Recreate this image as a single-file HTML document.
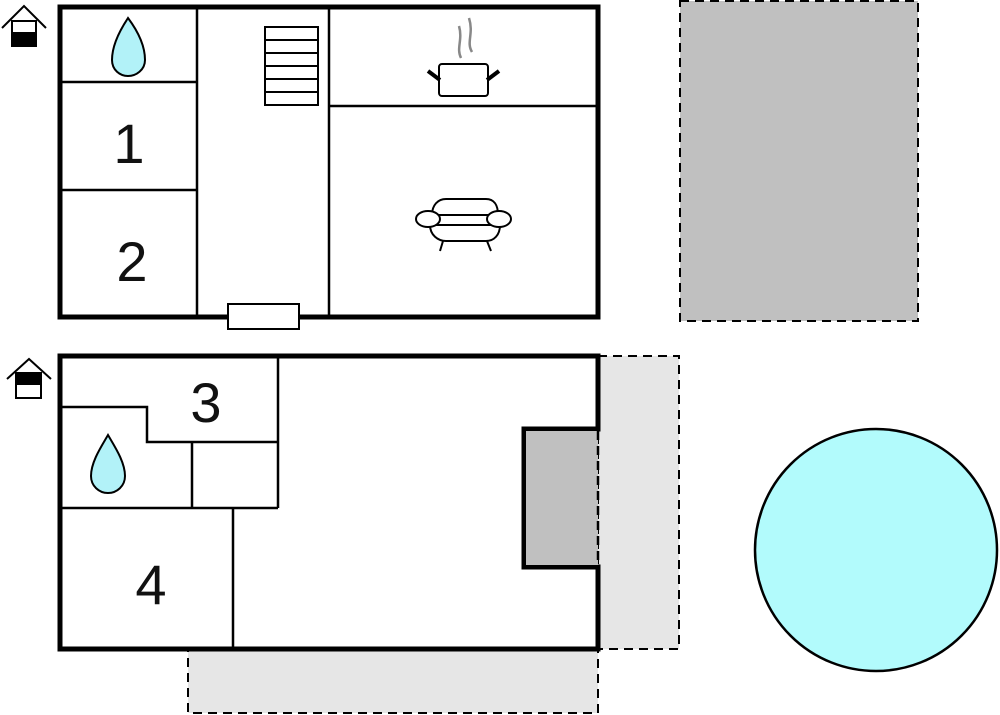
<!DOCTYPE html>
<html><head><meta charset="utf-8"><style>html,body{margin:0;padding:0;background:#fff;}svg{display:block;}</style></head>
<body>
<svg width="1000" height="715" viewBox="0 0 1000 715" xmlns="http://www.w3.org/2000/svg" font-family="Liberation Sans, sans-serif">
<!-- gray dashed area top right -->
<rect x="680" y="1" width="238" height="320" fill="#c0c0c0" stroke="#000" stroke-width="2" stroke-dasharray="9,6"/>
<!-- terraces -->
<rect x="598" y="356" width="81" height="293" fill="#e6e6e6" stroke="#000" stroke-width="2" stroke-dasharray="9,6"/>
<rect x="188" y="649" width="410" height="64" fill="#e6e6e6" stroke="#000" stroke-width="2" stroke-dasharray="9,6"/>
<!-- pool -->
<circle cx="876" cy="550" r="121" fill="#b2fbfc" stroke="#000" stroke-width="2.5"/>

<!-- TOP BUILDING -->
<rect x="60" y="7" width="538" height="310" fill="#fff" stroke="#000" stroke-width="5"/>
<g stroke="#000" stroke-width="2.5" fill="none">
<line x1="197" y1="7" x2="197" y2="317"/>
<line x1="329" y1="7" x2="329" y2="317"/>
<line x1="60" y1="82" x2="197" y2="82"/>
<line x1="60" y1="190" x2="197" y2="190"/>
<line x1="329" y1="106" x2="598" y2="106"/>
</g>
<!-- stairs -->
<g stroke="#000" stroke-width="2" fill="#fff">
<rect x="265" y="27" width="53" height="78"/>
<line x1="265" y1="40" x2="318" y2="40"/>
<line x1="265" y1="53" x2="318" y2="53"/>
<line x1="265" y1="66" x2="318" y2="66"/>
<line x1="265" y1="79" x2="318" y2="79"/>
<line x1="265" y1="92" x2="318" y2="92"/>
</g>
<rect x="228" y="304" width="71" height="25" fill="#fff" stroke="#000" stroke-width="2"/>
<!-- drop top -->
<path d="M128,18 C120,30 112,45 112,60 C112,70 120,76 128,76 C136,76 145,70 145,60 C145,45 137,30 128,18 Z" fill="#b2f2f8" stroke="#000" stroke-width="2"/>
<text x="129" y="163" font-size="56" text-anchor="middle" fill="#111">1</text>
<text x="132" y="281" font-size="56" text-anchor="middle" fill="#111">2</text>
<!-- pot -->
<g stroke="#000" fill="none">
<rect x="439" y="64" width="49" height="32" rx="3" stroke-width="2" fill="#fff"/>
<line x1="428" y1="71" x2="440" y2="80" stroke-width="4"/>
<line x1="499" y1="71" x2="487" y2="80" stroke-width="4"/>
<path d="M461,58 C456,48 463,40 459,26" stroke="#888" stroke-width="2.5"/>
<path d="M472,52 C466,42 474,34 469,18" stroke="#888" stroke-width="2.5"/>
</g>
<!-- sofa -->
<g stroke="#000" stroke-width="2" fill="#fff">
<path d="M432,215 C432,205 438,199 446,199 L486,199 C494,199 498,205 498,215 Z"/>
<path d="M430,225 L500,225 C500,235 494,241 486,241 L446,241 C438,241 430,235 430,225 Z"/>
<ellipse cx="428" cy="219" rx="12" ry="8"/>
<ellipse cx="499" cy="219" rx="12" ry="8"/>
<line x1="443" y1="241" x2="440" y2="251"/>
<line x1="487" y1="241" x2="491" y2="251"/>
</g>
<!-- house icon top -->
<g stroke="#000" fill="none" stroke-width="2">
<polyline points="2,28 24,6 46,28"/>
<rect x="12" y="21" width="24" height="25" fill="#fff"/>
<rect x="12" y="33" width="24" height="13" fill="#000"/>
</g>

<!-- BOTTOM BUILDING -->
<path d="M598,356 L60,356 L60,649 L598,649 L598,567 L524,567 L524,429 L598,429 Z" fill="#fff" stroke="#000" stroke-width="5"/>
<line x1="598" y1="356" x2="598" y2="429" stroke="#000" stroke-width="5"/>
<rect x="526" y="431" width="72" height="134" fill="#c0c0c0"/>
<line x1="598" y1="431" x2="598" y2="565" stroke="#000" stroke-width="2.5" stroke-dasharray="9,6"/>
<g stroke="#000" stroke-width="2.5" fill="none">
<polyline points="60,407 147,407 147,442 278,442"/>
<line x1="278" y1="356" x2="278" y2="508"/>
<line x1="60" y1="508" x2="278" y2="508"/>
<line x1="192" y1="442" x2="192" y2="508"/>
<line x1="233" y1="508" x2="233" y2="649"/>
</g>
<text x="206" y="422" font-size="56" text-anchor="middle" fill="#111">3</text>
<path d="M108,435 C101,447 91,462 91,476 C91,486 99,493 108,493 C117,493 125,486 125,476 C125,462 115,447 108,435 Z" fill="#b2f2f8" stroke="#000" stroke-width="2"/>
<text x="151" y="604" font-size="56" text-anchor="middle" fill="#111">4</text>
<g stroke="#000" fill="none" stroke-width="2">
<polyline points="7,379 29,359 51,379"/>
<rect x="16" y="373" width="25" height="25" fill="#fff"/>
<rect x="16" y="373" width="25" height="11" fill="#000"/>
</g>
</svg>
</body></html>
